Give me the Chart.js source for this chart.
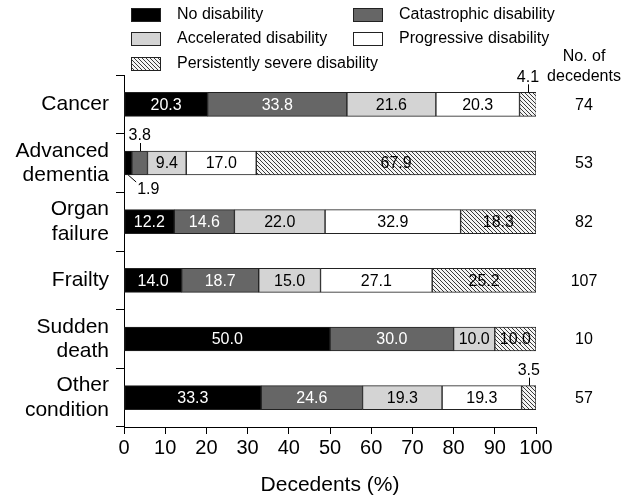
<!DOCTYPE html>
<html>
<head>
<meta charset="utf-8">
<script src="https://cdn.jsdelivr.net/npm/chart.js@4/dist/chart.umd.min.js"></script>
<style>
  body { margin: 0; background: #fff; }
</style>
</head>
<body>
<canvas id="chart" width="633" height="499"></canvas>
<script>
const conditions = ['Cancer', ['Advanced', 'dementia'], ['Organ', 'failure'], 'Frailty', ['Sudden', 'death'], ['Other', 'condition']];
const decedents = [74, 53, 82, 107, 10, 57];

const noDisability = [20.3, 1.9, 12.2, 14.0, 50.0, 33.3];
const catastrophic = [33.8, 3.8, 14.6, 18.7, 30.0, 24.6];
const accelerated = [21.6, 9.4, 22.0, 15.0, 10.0, 19.3];
const progressive = [20.3, 17.0, 32.9, 27.1, 0, 19.3];
const persistentlySevere = [4.1, 67.9, 18.3, 25.2, 10.0, 3.5];

const FONT = "'Liberation Sans', Arial, sans-serif";
const canvas = document.getElementById('chart');
const mainCtx = canvas.getContext('2d');

// diagonal hatch for the "persistently severe" segments
const makeHatch = function makeHatch() {
  const size = 4;
  const c = document.createElement('canvas');
  c.width = size;
  c.height = size;
  const g = c.getContext('2d');
  g.fillStyle = '#f4f4f4';
  g.fillRect(0, 0, size, size);
  g.strokeStyle = '#3a3a3a';
  g.lineWidth = 1;
  g.beginPath();
  g.moveTo(-1, -1); g.lineTo(size + 1, size + 1);
  g.moveTo(-1, size - 1); g.lineTo(1, size + 1);
  g.moveTo(size - 1, -1); g.lineTo(size + 1, 1);
  g.stroke();
  return mainCtx.createPattern(c, 'repeat');
};
const hatch = makeHatch();

const series = [
  { label: 'No disability', data: noDisability, color: '#000000', text: '#ffffff' },
  { label: 'Catastrophic disability', data: catastrophic, color: '#666666', text: '#ffffff' },
  { label: 'Accelerated disability', data: accelerated, color: '#d4d4d4', text: '#000000' },
  { label: 'Progressive disability', data: progressive, color: '#ffffff', text: '#000000' },
  { label: 'Persistently severe disability', data: persistentlySevere, color: hatch, text: '#000000' },
];

// value labels on the bars, small ones pulled outside with a leader line
const barLabels = {
  id: 'barLabels',
  afterDatasetsDraw(chart) {
    const { ctx } = chart;
    ctx.save();
    ctx.font = '16px ' + FONT;
    ctx.strokeStyle = '#000';
    ctx.lineWidth = 1;
    chart.data.datasets.forEach((ds, di) => {
      const meta = chart.getDatasetMeta(di);
      meta.data.forEach((bar, i) => {
        const v = ds.data[i];
        if (!v) return;
        const txt = v.toFixed(1);
        const p = bar.getProps(['x', 'y', 'base', 'height'], true);
        const cx = (p.x + p.base) / 2;
        const top = p.y - p.height / 2;
        const bottom = p.y + p.height / 2;
        if (v >= 5) {
          ctx.fillStyle = series[di].text;
          ctx.textAlign = 'center';
          ctx.textBaseline = 'middle';
          ctx.fillText(txt, cx, p.y + 1);
        } else if (di === 0) {
          ctx.beginPath();
          ctx.moveTo(cx, bottom);
          ctx.lineTo(cx + 8, bottom + 7);
          ctx.stroke();
          ctx.fillStyle = '#000';
          ctx.textAlign = 'left';
          ctx.textBaseline = 'middle';
          ctx.fillText(txt, cx + 9, bottom + 15);
        } else {
          ctx.beginPath();
          ctx.moveTo(Math.round(cx) + 0.5, top);
          ctx.lineTo(Math.round(cx) + 0.5, top - 8);
          ctx.stroke();
          ctx.fillStyle = '#000';
          ctx.textAlign = 'center';
          ctx.textBaseline = 'middle';
          ctx.fillText(txt, cx, top - 15);
        }
      });
    });
    ctx.restore();
  },
};

// two-column legend at the top and the "No. of decedents" column
const sideText = {
  id: 'sideText',
  afterDraw(chart) {
    const { ctx, chartArea } = chart;
    const yScale = chart.scales.y;
    ctx.save();
    ctx.font = '16px ' + FONT;
    ctx.fillStyle = '#000';
    ctx.textBaseline = 'middle';

    const slots = [[131, 8], [353, 8], [131, 32], [353, 32], [131, 57]];
    series.forEach((s, i) => {
      const [bx, by] = slots[i];
      ctx.fillStyle = s.color;
      ctx.fillRect(bx, by, 30, 14);
      ctx.strokeStyle = '#222';
      ctx.lineWidth = 1;
      ctx.strokeRect(bx + 0.5, by + 0.5, 29, 13);
      ctx.fillStyle = '#000';
      ctx.textAlign = 'left';
      ctx.fillText(s.label, bx + 46, by + 7);
    });

    const colX = chartArea.right + 48;
    ctx.textAlign = 'center';
    ctx.fillText('No. of', colX, 57);
    ctx.fillText('decedents', colX, 77);
    decedents.forEach((n, i) => {
      ctx.fillText(String(n), colX, yScale.getPixelForValue(i) + 1);
    });
    ctx.restore();
  },
};

new Chart(canvas, {
  type: 'bar',
  data: {
    labels: conditions,
    datasets: series.map((s) => ({
      label: s.label,
      data: s.data,
      backgroundColor: s.color,
      borderColor: '#222',
      borderWidth: 1,
      borderSkipped: false,
      barThickness: 24,
    })),
  },
  options: {
    indexAxis: 'y',
    responsive: false,
    animation: false,
    layout: { padding: { top: 75, right: 97, bottom: 0, left: 0 } },
    plugins: {
      legend: { display: false },
      tooltip: { enabled: false },
    },
    scales: {
      x: {
        stacked: true,
        min: 0,
        max: 100,
        afterFit(scale) { scale.height = 72; },
        ticks: {
          stepSize: 10,
          color: '#000',
          padding: 2,
          maxRotation: 0,
          font: { family: FONT, size: 20 },
        },
        grid: { drawOnChartArea: false, tickLength: 7, color: '#000' },
        border: { color: '#000', width: 1 },
        title: {
          display: true,
          text: 'Decedents (%)',
          color: '#000',
          padding: { top: 0, bottom: 1 },
          font: { family: FONT, size: 21 },
        },
      },
      y: {
        stacked: true,
        afterFit(scale) { scale.width = 124; },
        ticks: {
          color: '#000',
          padding: 7,
          font: { family: FONT, size: 21, lineHeight: 1.15 },
        },
        grid: { offset: true, drawOnChartArea: false, tickLength: 8, color: '#000' },
        border: { color: '#000', width: 1 },
      },
    },
  },
  plugins: [barLabels, sideText],
});
</script>
</body>
</html>
